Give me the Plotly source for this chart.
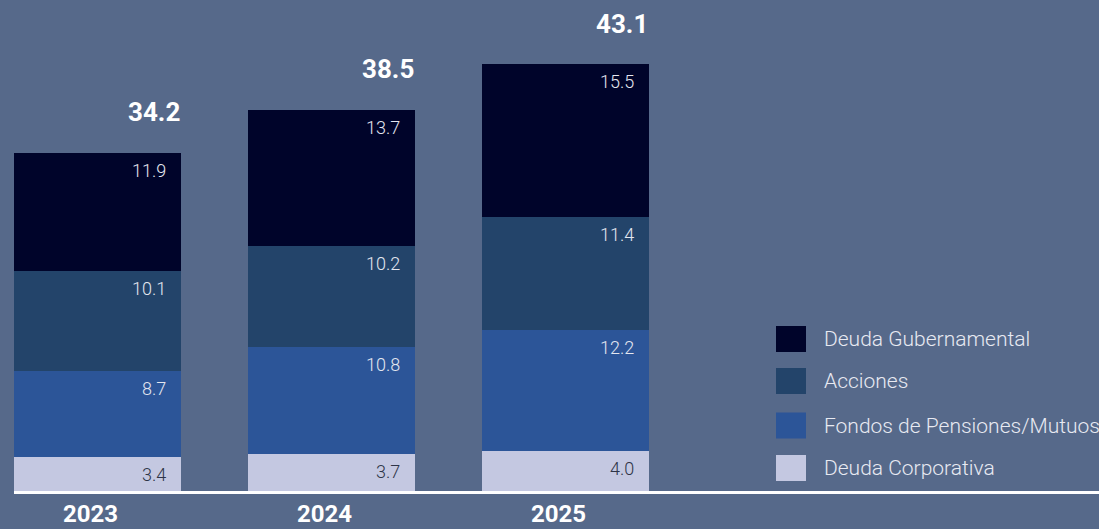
import plotly.graph_objects as go

years = ["2023", "2024", "2025"]
deuda_corporativa = [3.4, 3.7, 4.0]
fondos = [8.7, 10.8, 12.2]
acciones = [10.1, 10.2, 11.4]
deuda_gub = [11.9, 13.7, 15.5]
totals = [34.2, 38.5, 43.1]

series = [
    ("Deuda Corporativa", deuda_corporativa, "#c4c8e1", "#2e3447"),
    ("Fondos de Pensiones/Mutuos", fondos, "#2c5598", "#e4e7f0"),
    ("Acciones", acciones, "#23446a", "#e4e7f0"),
    ("Deuda Gubernamental", deuda_gub, "#00042a", "#e4e7f0"),
]

W, H = 1099, 529
L, R, T, B = 14, 0, 45, 38
BAR_W = 0.714
xs = list(range(len(years)))
x_left = -BAR_W / 2
x_right = x_left + (W - L - R) / 234.0

fig = go.Figure()
anns = []
cum = [0.0] * len(years)
for name, vals, color, tcolor in series:
    fig.add_trace(go.Bar(
        x=xs, y=vals, name=name, width=BAR_W,
        marker=dict(color=color, line=dict(width=0)),
        showlegend=False, hoverinfo="y+name",
    ))
    for i, v in enumerate(vals):
        cum[i] += v
        anns.append(dict(
            x=xs[i] + BAR_W / 2, y=cum[i], xref="x", yref="y",
            text=f"{v:.1f}", showarrow=False, xanchor="right", yanchor="top",
            xshift=-13, yshift=-5,
            font=dict(family="Roboto", size=18, color=tcolor, weight=300),
        ))

for i, t in enumerate(totals):
    anns.append(dict(
        x=xs[i] + BAR_W / 2, y=t, xref="x", yref="y",
        text=f"<b>{t:.1f}</b>", showarrow=False, xanchor="right", yanchor="bottom",
        xshift=1, yshift=23,
        font=dict(family="Roboto", size=26, color="#ffffff"),
    ))

for i, yr in enumerate(years):
    anns.append(dict(
        x=xs[i], y=0, xref="x", yref="y",
        text=f"<b>{yr}</b>", showarrow=False, xanchor="center", yanchor="top",
        xshift=-7, yshift=-7,
        font=dict(family="Roboto", size=24, color="#ffffff"),
    ))

# custom legend (top series first)
plot_w = W - L - R
plot_h = H - T - B
def px_x(px):
    return (px - L) / plot_w
def px_y(py):
    return (H - B - py) / plot_h

shapes = []
legend_rows = list(reversed(series))
row_centers = [339, 381, 425.5, 468]
for (name, vals, color, tcolor), cy in zip(legend_rows, row_centers):
    shapes.append(dict(type="rect", xref="paper", yref="paper",
                       x0=px_x(776), x1=px_x(806), y0=px_y(cy + 13), y1=px_y(cy - 13),
                       fillcolor=color, line=dict(width=0), layer="above"))
    anns.append(dict(x=px_x(822), y=px_y(cy), xref="paper", yref="paper",
                     text=name, showarrow=False, xanchor="left", yanchor="middle",
                     font=dict(family="Roboto", size=21, color="#e8eaf2", weight=300)))

fig.update_layout(
    width=W, height=H,
    barmode="stack", bargap=0,
    paper_bgcolor="#56698a", plot_bgcolor="rgba(0,0,0,0)",
    margin=dict(l=L, r=R, t=T, b=B),
    xaxis=dict(range=[x_left, x_right], showgrid=False, zeroline=False,
               showticklabels=False, showline=True, linecolor="#ffffff", linewidth=3,
               fixedrange=True),
    yaxis=dict(range=[0, 45], showgrid=False, zeroline=False, showticklabels=False,
               fixedrange=True),
    annotations=anns, shapes=shapes,
    font=dict(family="Roboto"),
)

fig.write_html(
    "out.html",
    config={"displayModeBar": False},
    post_script="document.body.style.margin='0';document.body.style.overflow='hidden';",
)
